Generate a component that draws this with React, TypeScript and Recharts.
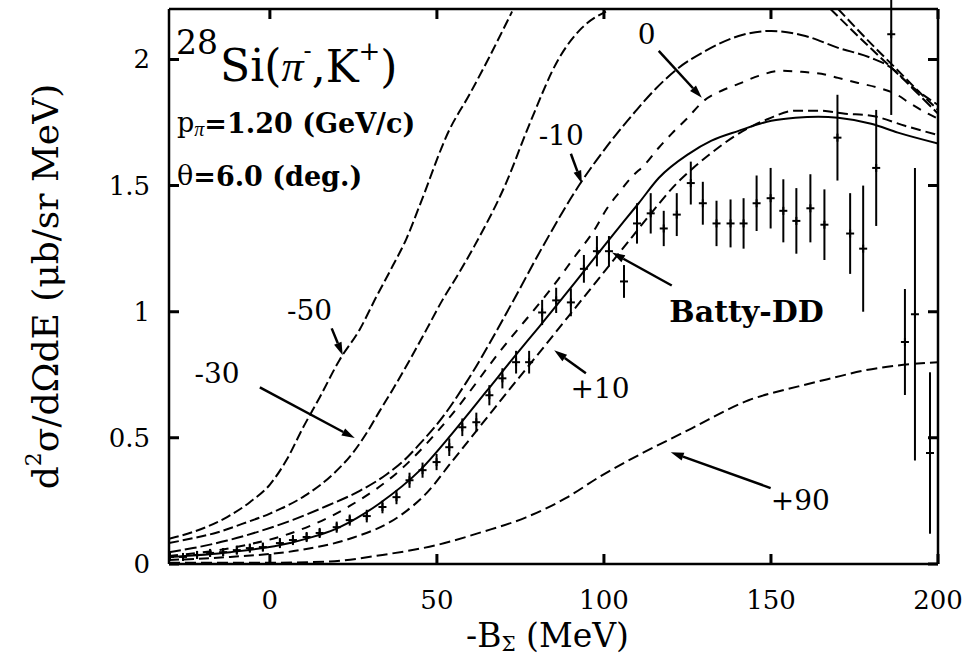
import React from 'react';
import {
  ComposedChart,
  Line,
  Scatter,
  ErrorBar,
  XAxis,
  YAxis,
  ReferenceLine,
  ReferenceDot,
} from 'recharts';

const FONT = 'DejaVu Serif';

const xTicks = [0, 50, 100, 150, 200];
const yTicks = [0, 0.5, 1, 1.5, 2];

// calculated spectra, [-B (MeV), d2s/dOdE]
const curveM50Up = [
  [-30.2, 0.1], [-23, 0.127], [-12.8, 0.186], [-6, 0.245], [0, 0.315], [5.1, 0.415], [9.9, 0.54],
  [14.9, 0.66], [20.9, 0.81], [26.9, 0.93], [31.9, 1.06], [36.7, 1.18], [40.9, 1.29], [44.8, 1.42],
  [53.7, 1.72], [59.7, 1.86], [65.7, 2.01], [72.5, 2.19],
];
const curveM50Down = [[167.8, 2.2], [179.1, 2.054], [185.1, 1.979], [191.9, 1.896], [200, 1.82]];

const curveM30Up = [
  [-30.2, 0.083], [-23.9, 0.1], [-15.8, 0.125], [-8.1, 0.16], [0, 0.2], [10.4, 0.27],
  [18.8, 0.355], [24.8, 0.44], [29, 0.52], [32.8, 0.605], [36.7, 0.69], [41.8, 0.807], [46.9, 0.93],
  [51.6, 1.045], [55.8, 1.136], [61.2, 1.26], [70.7, 1.51], [77.6, 1.74], [86.6, 2.006],
  [93.4, 2.125], [100.6, 2.19],
];
const curveM30Down = [[170.1, 2.2], [181.2, 2.046], [187.2, 1.967], [194, 1.876], [200, 1.8]];

const curveM10 = [
  [-30.2, 0.047], [-23, 0.063], [-12.8, 0.093], [-3, 0.13], [6.9, 0.175], [17, 0.23],
  [26.9, 0.29], [34.9, 0.355], [40.9, 0.42], [44.8, 0.475], [51, 0.57], [58.8, 0.72], [72.5, 1.035],
  [81.5, 1.254], [93.1, 1.512], [101.5, 1.666], [109.6, 1.797], [115.5, 1.884], [122.4, 1.967],
  [130.4, 2.034], [140.3, 2.093], [150.1, 2.113], [160.3, 2.093], [170.1, 2.046], [180, 2.006],
  [186, 1.967], [193.1, 1.876], [200, 1.785],
];

const curve0 = [
  [-30.2, 0.032], [-11.9, 0.063], [9, 0.135], [23.9, 0.23], [38.8, 0.37], [53.7, 0.58],
  [68.7, 0.84], [87.2, 1.144], [90.4, 1.203], [97.6, 1.334], [100.9, 1.409], [104.5, 1.472],
  [108.1, 1.531], [112.5, 1.587], [116.4, 1.65], [120.3, 1.706], [124.8, 1.765], [129.9, 1.836],
  [135.2, 1.876], [140.3, 1.903], [146.3, 1.935], [153.1, 1.955], [159.1, 1.951], [165.1, 1.943],
  [170.1, 1.927], [176.1, 1.907], [182.1, 1.888], [187.2, 1.864], [191.9, 1.824], [197, 1.785],
  [200, 1.765],
];

const curveBatty = [
  [-30.2, 0.028], [-11.9, 0.047], [6, 0.083], [20.9, 0.146], [32.8, 0.24], [44.8, 0.37],
  [54.6, 0.518], [64.8, 0.684], [73.7, 0.83], [80.6, 0.94], [91.6, 1.12], [102.4, 1.3],
  [110.4, 1.43], [116.4, 1.53], [125.4, 1.626], [132.2, 1.678], [140.3, 1.717], [150.1, 1.757],
  [157.3, 1.769], [164.2, 1.773], [170.1, 1.769], [180, 1.745], [188, 1.71], [200, 1.667],
];

const curveP10 = [
  [-30.2, 0.016], [-11.9, 0.028], [9, 0.055], [23.9, 0.1], [38.8, 0.19], [46.9, 0.281],
  [54.6, 0.408], [63.6, 0.557], [71.6, 0.69], [80.6, 0.837], [86.6, 0.936], [92.5, 1.033],
  [100.6, 1.167], [108.4, 1.296], [114.9, 1.403], [121.5, 1.505], [126.3, 1.565], [131.3, 1.62],
  [140.3, 1.706], [149.3, 1.765], [157.3, 1.797], [164.2, 1.797], [172.2, 1.785], [180, 1.777],
  [190.1, 1.737], [200, 1.7],
];

const curveP90 = [
  [-30.2, 0.005], [0, 0.005], [17.9, 0.01], [33.7, 0.036], [49.9, 0.075], [63.6, 0.127],
  [76.7, 0.185], [88.7, 0.262], [98.5, 0.344], [126.3, 0.538], [143.3, 0.649], [158.2, 0.704],
  [168, 0.736], [178.2, 0.768], [188, 0.787], [200, 0.8],
];

// measured: [-B, value, error down, error up]
const measured = [
  [-29.9, 0.028, 0.015, 0.015], [-26, 0.028, 0.015, 0.015], [-21.8, 0.036, 0.015, 0.015],
  [-17.9, 0.044, 0.015, 0.015], [-14, 0.047, 0.015, 0.015], [-9.9, 0.055, 0.018, 0.018],
  [-6, 0.063, 0.018, 0.018], [-2.1, 0.067, 0.018, 0.018], [3, 0.083, 0.02, 0.02],
  [6.9, 0.095, 0.02, 0.02], [11, 0.107, 0.02, 0.02], [14.9, 0.123, 0.02, 0.02],
  [20, 0.146, 0.022, 0.022], [23.9, 0.174, 0.022, 0.022], [29, 0.19, 0.025, 0.025],
  [33.7, 0.226, 0.025, 0.025], [37.9, 0.265, 0.028, 0.028], [41.8, 0.332, 0.03, 0.03],
  [45.7, 0.372, 0.03, 0.03], [49.9, 0.404, 0.032, 0.032], [53.7, 0.463, 0.035, 0.035],
  [57.6, 0.542, 0.035, 0.035], [61.8, 0.562, 0.038, 0.038], [65.7, 0.669, 0.04, 0.04],
  [69.6, 0.736, 0.04, 0.04], [73.7, 0.8, 0.045, 0.045], [77.6, 0.8, 0.045, 0.045],
  [81.5, 0.997, 0.05, 0.05], [85.7, 1.045, 0.05, 0.05], [90.1, 1.037, 0.055, 0.055],
  [94, 1.17, 0.055, 0.055], [97.9, 1.24, 0.06, 0.06], [101.5, 1.24, 0.06, 0.06],
  [106, 1.12, 0.065, 0.065], [109.9, 1.35, 0.08, 0.08], [114, 1.39, 0.08, 0.08],
  [117.9, 1.33, 0.07, 0.07], [121.8, 1.385, 0.085, 0.085], [126, 1.51, 0.085, 0.085],
  [129.6, 1.43, 0.085, 0.085], [133.7, 1.35, 0.09, 0.09], [137.9, 1.35, 0.095, 0.095],
  [141.8, 1.35, 0.1, 0.1], [145.7, 1.43, 0.11, 0.11], [149.9, 1.45, 0.12, 0.12],
  [153.7, 1.4, 0.125, 0.125], [157.6, 1.36, 0.13, 0.13], [161.8, 1.41, 0.135, 0.135],
  [166, 1.345, 0.14, 0.14], [169.9, 1.69, 0.17, 0.17], [173.7, 1.31, 0.16, 0.16],
  [177.6, 1.25, 0.25, 0.25], [181.5, 1.57, 0.23, 0.23], [186, 2.1, 0.32, 0.2],
  [190.1, 0.88, 0.21, 0.21], [193.1, 0.99, 0.58, 0.58], [197.6, 0.44, 0.32, 0.32],
];

// labels next to the curves (text centre in data units)
const curveLabels = [
  { text: '0', x: 112.8, y: 2.1 },
  { text: '-10', x: 87.2, y: 1.7 },
  { text: '-50', x: 11.9, y: 1.005 },
  { text: '-30', x: -15.8, y: 0.756 },
  { text: '+10', x: 98.8, y: 0.696 },
  { text: '+90', x: 158.8, y: 0.253 },
];

const arrows = [
  { x1: 18.5, y1: 0.934, x2: 21.8, y2: 0.827 },
  { x1: -3, y1: 0.7, x2: 25.4, y2: 0.499 },
  { x1: 90.1, y1: 1.626, x2: 93.4, y2: 1.508 },
  { x1: 116.4, y1: 2.034, x2: 129.3, y2: 1.848 },
  { x1: 120.3, y1: 1.104, x2: 102.4, y2: 1.235 },
  { x1: 94.6, y1: 0.756, x2: 85.1, y2: 0.847 },
  { x1: 149.9, y1: 0.301, x2: 120, y2: 0.443 },
];

const pts = (a: number[][]) => a.map(([x, y]) => ({ x, y }));

const curves = [
  { id: 'm50a', data: curveM50Up, dash: '10 4' },
  { id: 'm50b', data: curveM50Down, dash: '10 4' },
  { id: 'm30a', data: curveM30Up, dash: '10 4' },
  { id: 'm30b', data: curveM30Down, dash: '10 4' },
  { id: 'm10', data: curveM10, dash: '12 4' },
  { id: 'z0', data: curve0, dash: '9 8' },
  { id: 'batty', data: curveBatty, dash: undefined },
  { id: 'p10', data: curveP10, dash: '10 5' },
  { id: 'p90', data: curveP90, dash: '11 5' },
];

const measuredPts = measured.map(([x, y, lo, hi]) => ({ x, y, err: [lo, hi] }));

const TICK_LEN = 10;

const CrossMark = (p: any) => (
  <g>
    <line x1={p.cx - 4} y1={p.cy} x2={p.cx + 4} y2={p.cy} stroke="#000" strokeWidth={2} />
    <line x1={p.cx} y1={p.cy - 4} x2={p.cx} y2={p.cy + 4} stroke="#000" strokeWidth={2} />
  </g>
);

const BottomLabel = (p: any) => (
  <text x={p.x} y={p.y} dy="0.71em" textAnchor="middle" fontFamily={FONT} fontSize={26} fill="#000">
    {p.payload.value}
  </text>
);
const LeftLabel = (p: any) => (
  <text x={p.x} y={p.y} textAnchor="end" dominantBaseline="central" fontFamily={FONT} fontSize={26} fill="#000">
    {p.payload.value}
  </text>
);

// inward tick notches at both ends of a full-height / full-width reference line
const notchShape = (p: any) => {
  const x1 = Number(p.x1);
  const y1 = Number(p.y1);
  const x2 = Number(p.x2);
  const y2 = Number(p.y2);
  const d = Math.hypot(x2 - x1, y2 - y1) || 1;
  const ux = ((x2 - x1) / d) * TICK_LEN;
  const uy = ((y2 - y1) / d) * TICK_LEN;
  return (
    <path d={`M${x1},${y1}L${x1 + ux},${y1 + uy}M${x2},${y2}L${x2 - ux},${y2 - uy}`}
      stroke="#000" strokeWidth={3} fill="none" />
  );
};

const arrowShape = (p: any) => {
  const { x1, y1, x2, y2 } = p;
  const a = Math.atan2(y2 - y1, x2 - x1);
  const len = 13;
  const half = 4;
  const bx = x2 - len * Math.cos(a);
  const by = y2 - len * Math.sin(a);
  const head = `${x2},${y2} ${bx + half * Math.sin(a)},${by - half * Math.cos(a)} ${bx - half * Math.sin(a)},${by + half * Math.cos(a)}`;
  return (
    <g>
      <line x1={x1} y1={y1} x2={bx} y2={by} stroke="#000" strokeWidth={2.5} />
      <polygon points={head} fill="#000" />
    </g>
  );
};

const YTitle = (props: any) => {
  const vb = props.viewBox;
  const cx = vb.x - 64;
  const cy = vb.y + vb.height / 2;
  return (
    <text transform={`translate(${cx},${cy}) rotate(-90)`} textAnchor="middle" dominantBaseline="central"
      fontFamily={FONT} fontSize={36} fill="#000">
      d<tspan dy={-12} fontSize={22}>2</tspan><tspan dy={12}>σ/dΩdE (μb/sr MeV)</tspan>
    </text>
  );
};

const XTitle = (props: any) => {
  const vb = props.viewBox;
  const cx = vb.x + vb.width / 2 - 6;
  const cy = vb.y + 71;
  return (
    <text x={cx} y={cy} textAnchor="middle" dominantBaseline="central" fontFamily={FONT} fontSize={33} fill="#000">
      -B<tspan dy={9} fontSize={20}>Σ</tspan><tspan dy={-9}> (MeV)</tspan>
    </text>
  );
};

const axisStroke = { stroke: '#000', strokeWidth: 2.5 };

export default function App() {
  return (
    <div style={{ width: 971, height: 662, background: '#fff' }}>
      <style>{'body{margin:0;background:#fff}'}</style>
      <ComposedChart width={971} height={662} margin={{ top: 8, right: 32, bottom: 38, left: 109 }}>
        <XAxis xAxisId={0} dataKey="x" type="number" domain={[-30.2, 200]} allowDataOverflow ticks={xTicks}
          interval={0} height={60} tickSize={0} tickMargin={27} tick={<BottomLabel />} tickLine={false}
          axisLine={axisStroke} label={<XTitle />} />
        <XAxis xAxisId="top" orientation="top" dataKey="x" type="number" domain={[-30.2, 200]} allowDataOverflow
          ticks={xTicks} height={1} tick={false} tickLine={false} axisLine={axisStroke} />
        <YAxis yAxisId={0} type="number" domain={[0, 2.2]} allowDataOverflow ticks={yTicks} interval={0}
          width={60} tickSize={0} tickMargin={19} tick={<LeftLabel />} tickLine={false} axisLine={axisStroke}
          label={<YTitle />} />
        <YAxis yAxisId="right" orientation="right" type="number" domain={[0, 2.2]} allowDataOverflow ticks={yTicks}
          width={1} tick={false} tickLine={false} axisLine={axisStroke} />

        {xTicks.map((t) => (
          <ReferenceLine key={'xt' + t} x={t} ifOverflow="visible" shape={notchShape} />
        ))}
        {yTicks.map((t) => (
          <ReferenceLine key={'yt' + t} y={t} ifOverflow="visible" shape={notchShape} />
        ))}

        {curves.map((c) => (
          <Line key={c.id} data={pts(c.data)} dataKey="y" type="monotone" stroke="#000" strokeWidth={2}
            strokeDasharray={c.dash} dot={false} activeDot={false} isAnimationActive={false} />
        ))}

        <Scatter data={measuredPts} dataKey="y" shape={CrossMark} isAnimationActive={false}>
          <ErrorBar dataKey="err" direction="y" width={0} stroke="#000" strokeWidth={2} isAnimationActive={false} />
        </Scatter>

        {arrows.map((a, i) => (
          <ReferenceLine key={'ar' + i} segment={[{ x: a.x1, y: a.y1 }, { x: a.x2, y: a.y2 }]} shape={arrowShape} />
        ))}

        {curveLabels.map((l) => (
          <ReferenceDot key={l.text} x={l.x} y={l.y} r={0}
            shape={(p: any) => (
              <text x={p.cx} y={p.cy} textAnchor="middle" dominantBaseline="central" fontFamily={FONT}
                fontSize={28} fill="#000">{l.text}</text>
            )} />
        ))}

        <ReferenceDot x={142.7} y={1.0} r={0}
          shape={(p: any) => (
            <text x={p.cx} y={p.cy} textAnchor="middle" dominantBaseline="central" fontFamily={FONT}
              fontSize={30} fontWeight="bold" fill="#000">Batty-DD</text>
          )} />

        <ReferenceDot x={-21.8} y={2.066} r={0}
          shape={(p: any) => (
            <text x={p.cx} y={p.cy} textAnchor="middle" dominantBaseline="central" fontFamily={FONT}
              fontSize={33} fill="#000">28</text>
          )} />
        <ReferenceDot x={-14.9} y={1.975} r={0}
          shape={(p: any) => (
            <text x={p.cx} y={p.cy} dominantBaseline="central" fontFamily={FONT} fontSize={44} fill="#000">
              Si(<tspan fontFamily="Liberation Serif" fontStyle="italic">π</tspan>
              <tspan dy={-15} fontSize={24}>-</tspan><tspan dy={15}>,K</tspan>
              <tspan dy={-15} fontSize={26}>+</tspan><tspan dy={15}>)</tspan>
            </text>
          )} />
        <ReferenceDot x={-27.8} y={1.749} r={0}
          shape={(p: any) => (
            <text x={p.cx} y={p.cy} dominantBaseline="central" fontFamily={FONT} fontSize={27} fill="#000">
              p<tspan dy={6} fontSize={20} fontFamily="Liberation Serif" fontStyle="italic">π</tspan>
              <tspan dy={-6} fontWeight="bold">=1.20 (GeV/c)</tspan>
            </text>
          )} />
        <ReferenceDot x={-27.8} y={1.539} r={0}
          shape={(p: any) => (
            <text x={p.cx} y={p.cy} dominantBaseline="central" fontFamily={FONT} fontSize={27} fill="#000">
              θ<tspan fontWeight="bold">=6.0 (deg.)</tspan>
            </text>
          )} />
      </ComposedChart>
    </div>
  );
}
